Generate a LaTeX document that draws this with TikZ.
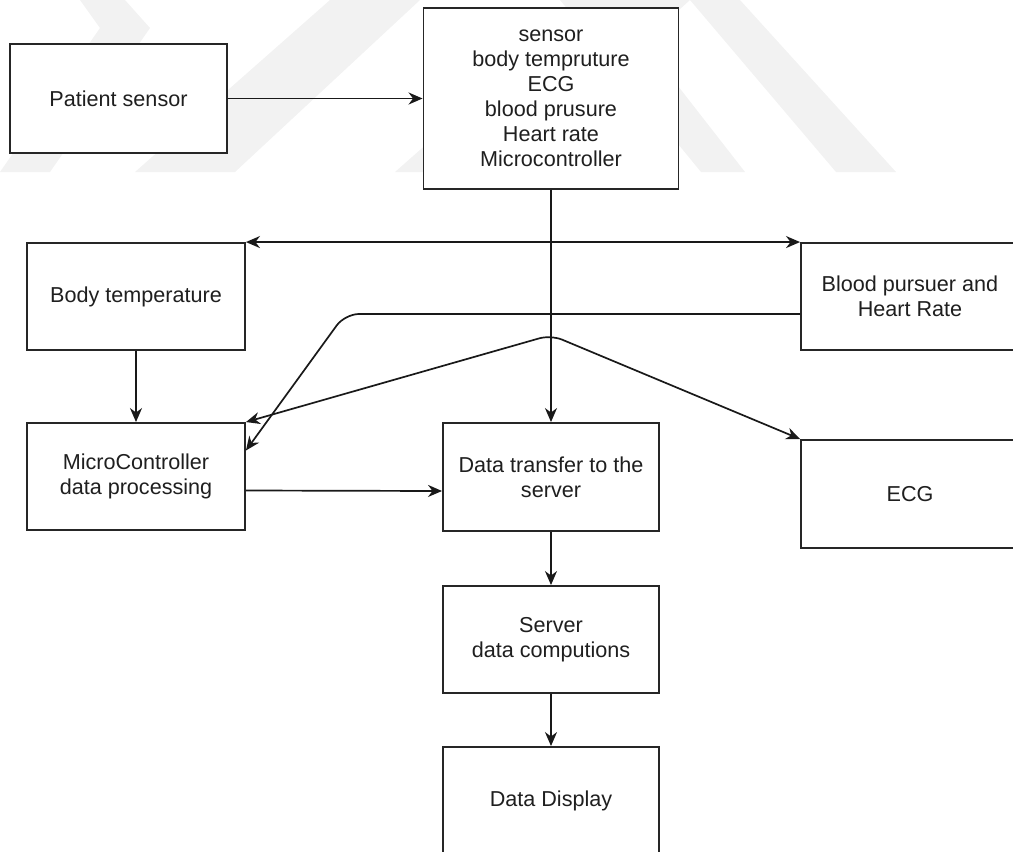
\documentclass[tikz,border=0pt]{standalone}
\usepackage{fontspec}
\setmainfont{Liberation Sans}
\usetikzlibrary{arrows.meta}
\newcommand\dgfont{\fontsize{21.6pt}{25pt}\selectfont}
\begin{document}
\begin{tikzpicture}[x=1pt,y=-1pt,
  box/.style={draw=black!85, line width=1.9pt, fill=white, align=center, inner sep=0pt, font=\dgfont, text=black!88},
  tip/.tip={Stealth[length=14pt,width=12pt,inset=4.5pt]},
  conn/.style={draw=black!90, line width=1.7pt, -tip},
  wm/.style={fill=black!5, draw=none}]
\useasboundingbox (0,0) rectangle (1013,852);
\clip (0,0) rectangle (1013,852);
% faint watermark
\fill[wm] (80,0) -- (125,0) -- (150,28) -- (50,172) -- (0,172) -- (100,28) -- cycle;
\fill[wm] (135,172) -- (235,172) -- (420,0) -- (330,0) -- cycle;
\fill[wm] (395,172) -- (500,172) -- (690,0) -- (590,0) -- cycle;
\fill[wm] (560,0) -- (611,0) -- (745,172) -- (701,172) -- cycle;
\fill[wm] (690,0) -- (740,0) -- (896,172) -- (836,172) -- cycle;
% nodes
\node[box, minimum width=217pt, minimum height=109pt] (ps) at (118.5,98.5) {Patient sensor};
\node[box, minimum width=255pt, minimum height=181pt] (top) at (551,98.5) {sensor\\body tempruture\\ECG\\blood prusure\\Heart rate\\Microcontroller};
\node[box, minimum width=218pt, minimum height=107pt] (bt) at (136,296.5) {Body temperature};
\node[box, minimum width=218pt, minimum height=107pt] (bp) at (910,296.5) {Blood pursuer and\\Heart Rate};
\node[box, minimum width=218pt, minimum height=107pt] (mc) at (136,476.5) {MicroController\\data processing};
\node[box, minimum width=216pt, minimum height=108pt] (dt) at (551,477) {Data transfer to the\\server};
\node[box, minimum width=218pt, minimum height=108pt] (ecg) at (910,494) {ECG};
\node[box, minimum width=216pt, minimum height=107pt] (sv) at (551,639.5) {Server\\data computions};
\node[box, minimum width=216pt, minimum height=108pt] (dd) at (551,801) {Data Display};
\coordinate (peak) at (551,335);
\coordinate (bend) at (345,314);
% connectors
\draw[conn] (ps) -- (top);
\draw[conn] (top.south) -- (dt.north);
\draw[conn] (top.south) |- (bt.north east);
\draw[conn] (top.south) |- (bp.north west);
\draw[conn] (bt) -- (mc);
\draw[conn, rounded corners=14pt] ([yshift=-17.5pt]bp.west) -- (bend) -- ([yshift=26pt]mc.east);
\draw[conn, tip-tip, rounded corners=12pt] (mc.north east) -- (peak) -- (ecg.north west);
\draw[conn] ([yshift=-14pt]mc.east) -- ([yshift=-14pt]dt.west);
\draw[conn] (dt) -- (sv);
\draw[conn] (sv) -- (dd);
\end{tikzpicture}
\end{document}
